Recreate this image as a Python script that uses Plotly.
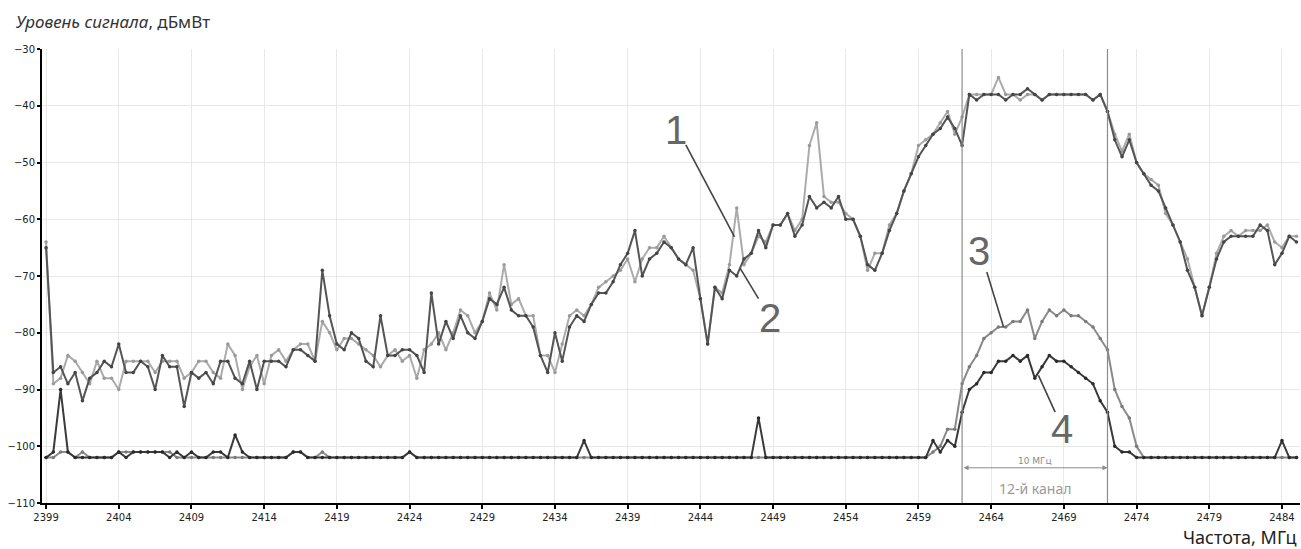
import plotly.graph_objects as go

# Frequency grid of the sweep, MHz (0.5 MHz step)
freq = [
    2399.0, 2399.5, 2400.0, 2400.5, 2401.0, 2401.5, 2402.0, 2402.5, 2403.0, 2403.5,
    2404.0, 2404.5, 2405.0, 2405.5, 2406.0, 2406.5, 2407.0, 2407.5, 2408.0, 2408.5,
    2409.0, 2409.5, 2410.0, 2410.5, 2411.0, 2411.5, 2412.0, 2412.5, 2413.0, 2413.5,
    2414.0, 2414.5, 2415.0, 2415.5, 2416.0, 2416.5, 2417.0, 2417.5, 2418.0, 2418.5,
    2419.0, 2419.5, 2420.0, 2420.5, 2421.0, 2421.5, 2422.0, 2422.5, 2423.0, 2423.5,
    2424.0, 2424.5, 2425.0, 2425.5, 2426.0, 2426.5, 2427.0, 2427.5, 2428.0, 2428.5,
    2429.0, 2429.5, 2430.0, 2430.5, 2431.0, 2431.5, 2432.0, 2432.5, 2433.0, 2433.5,
    2434.0, 2434.5, 2435.0, 2435.5, 2436.0, 2436.5, 2437.0, 2437.5, 2438.0, 2438.5,
    2439.0, 2439.5, 2440.0, 2440.5, 2441.0, 2441.5, 2442.0, 2442.5, 2443.0, 2443.5,
    2444.0, 2444.5, 2445.0, 2445.5, 2446.0, 2446.5, 2447.0, 2447.5, 2448.0, 2448.5,
    2449.0, 2449.5, 2450.0, 2450.5, 2451.0, 2451.5, 2452.0, 2452.5, 2453.0, 2453.5,
    2454.0, 2454.5, 2455.0, 2455.5, 2456.0, 2456.5, 2457.0, 2457.5, 2458.0, 2458.5,
    2459.0, 2459.5, 2460.0, 2460.5, 2461.0, 2461.5, 2462.0, 2462.5, 2463.0, 2463.5,
    2464.0, 2464.5, 2465.0, 2465.5, 2466.0, 2466.5, 2467.0, 2467.5, 2468.0, 2468.5,
    2469.0, 2469.5, 2470.0, 2470.5, 2471.0, 2471.5, 2472.0, 2472.5, 2473.0, 2473.5,
    2474.0, 2474.5, 2475.0, 2475.5, 2476.0, 2476.5, 2477.0, 2477.5, 2478.0, 2478.5,
    2479.0, 2479.5, 2480.0, 2480.5, 2481.0, 2481.5, 2482.0, 2482.5, 2483.0, 2483.5,
    2484.0, 2484.5, 2485.0,
]

# Trace 1 (light grey), dBm
level_1 = [
    -64, -89, -88, -84, -85, -87, -89, -85, -88, -88,
    -90, -85, -85, -85, -85, -87, -85, -85, -85, -88,
    -87, -85, -85, -87, -88, -82, -84, -90, -86, -84,
    -89, -84, -83, -85, -83, -82, -82, -85, -78, -80,
    -83, -81, -81, -82, -83, -84, -86, -84, -83, -85,
    -84, -88, -83, -82, -80, -83, -80, -76, -77, -80,
    -78, -73, -76, -68, -75, -74, -77, -77, -84, -84,
    -87, -82, -77, -76, -77, -75, -72, -71, -70, -69,
    -67, -71, -67, -65, -65, -63, -65, -67, -68, -69,
    -74, -82, -72, -73, -68, -58, -68, -66, -63, -64,
    -61, -61, -59, -62, -60, -47, -43, -56, -57, -57,
    -59, -60, -63, -69, -66, -66, -61, -59, -55, -52,
    -47, -46, -45, -43, -41, -45, -42, -38, -38, -38,
    -38, -35, -38, -38, -39, -38, -38, -39, -38, -38,
    -38, -38, -38, -38, -39, -38, -41, -45, -48, -45,
    -50, -52, -53, -54, -59, -61, -64, -67, -72, -77,
    -72, -66, -63, -62, -63, -62, -62, -62, -61, -64,
    -65, -63, -63,
]

# Trace 2 (dark grey), dBm
level_2 = [
    -65, -87, -86, -89, -87, -92, -88, -87, -85, -86,
    -82, -87, -87, -85, -86, -90, -84, -86, -86, -93,
    -87, -88, -87, -89, -85, -85, -88, -89, -85, -90,
    -85, -85, -85, -86, -83, -83, -84, -85, -69, -77,
    -82, -83, -80, -81, -85, -86, -77, -84, -84, -83,
    -83, -84, -87, -73, -82, -78, -81, -77, -80, -81,
    -78, -74, -75, -72, -76, -77, -77, -79, -84, -87,
    -80, -85, -79, -77, -78, -75, -73, -73, -71, -68,
    -66, -62, -70, -67, -66, -64, -65, -67, -68, -65,
    -74, -82, -72, -74, -69, -70, -67, -66, -62, -65,
    -61, -61, -59, -63, -61, -56, -58, -57, -58, -56,
    -60, -60, -63, -68, -69, -66, -62, -59, -55, -52,
    -49, -47, -45, -44, -42, -44, -47, -38, -39, -38,
    -38, -38, -39, -38, -38, -37, -38, -39, -38, -38,
    -38, -38, -38, -38, -39, -38, -41, -46, -49, -46,
    -50, -52, -54, -55, -58, -61, -64, -69, -72, -77,
    -72, -67, -64, -63, -63, -63, -63, -61, -62, -68,
    -66, -63, -64,
]

# Trace 3 (mid grey), dBm
level_3 = [
    -102, -102, -101, -101, -102, -101, -102, -102, -102, -102,
    -101, -101, -101, -101, -101, -101, -101, -101, -102, -102,
    -102, -102, -102, -102, -102, -102, -102, -102, -102, -102,
    -102, -102, -102, -102, -101, -101, -102, -102, -101, -102,
    -102, -102, -102, -102, -102, -102, -102, -102, -102, -102,
    -101, -102, -102, -102, -102, -102, -102, -102, -102, -102,
    -102, -102, -102, -102, -102, -102, -102, -102, -102, -102,
    -102, -102, -102, -102, -102, -102, -102, -102, -102, -102,
    -102, -102, -102, -102, -102, -102, -102, -102, -102, -102,
    -102, -102, -102, -102, -102, -102, -102, -102, -102, -102,
    -102, -102, -102, -102, -102, -102, -102, -102, -102, -102,
    -102, -102, -102, -102, -102, -102, -102, -102, -102, -102,
    -102, -102, -101, -100, -97, -97, -89, -86, -84, -81,
    -80, -79, -79, -78, -78, -76, -81, -78, -76, -77,
    -76, -77, -77, -78, -79, -81, -83, -90, -93, -95,
    -100, -102, -102, -102, -102, -102, -102, -102, -102, -102,
    -102, -102, -102, -102, -102, -102, -102, -102, -102, -102,
    -102, -102, -102,
]

# Trace 4 (dark), dBm
level_4 = [
    -102, -101, -90, -101, -102, -102, -102, -102, -102, -102,
    -101, -102, -101, -101, -101, -101, -101, -102, -101, -102,
    -101, -102, -102, -101, -101, -102, -98, -101, -102, -102,
    -102, -102, -102, -102, -101, -101, -102, -102, -102, -102,
    -102, -102, -102, -102, -102, -102, -102, -102, -102, -102,
    -101, -102, -102, -102, -102, -102, -102, -102, -102, -102,
    -102, -102, -102, -102, -102, -102, -102, -102, -102, -102,
    -102, -102, -102, -102, -99, -102, -102, -102, -102, -102,
    -102, -102, -102, -102, -102, -102, -102, -102, -102, -102,
    -102, -102, -102, -102, -102, -102, -102, -102, -95, -102,
    -102, -102, -102, -102, -102, -102, -102, -102, -102, -102,
    -102, -102, -102, -102, -102, -102, -102, -102, -102, -102,
    -102, -102, -99, -101, -99, -100, -94, -90, -89, -87,
    -87, -85, -85, -84, -85, -84, -88, -86, -84, -85,
    -85, -86, -87, -88, -89, -92, -94, -100, -101, -101,
    -102, -102, -102, -102, -102, -102, -102, -102, -102, -102,
    -102, -102, -102, -102, -102, -102, -102, -102, -102, -102,
    -99, -102, -102,
]

x_ticks = [2399, 2404, 2409, 2414, 2419, 2424, 2429, 2434, 2439, 2444,
           2449, 2454, 2459, 2464, 2469, 2474, 2479, 2484]
y_ticks = [-110, -100, -90, -80, -70, -60, -50, -40, -30]

channel_lo, channel_hi = 2462, 2472
channel_label = "12-й канал"
width_label = "10 МГц"

# Callout numbers: text position and leader line (from, to)
callouts = [
    ("1", (2442.3, -44.3), (2443.0, -46.9), (2446.35, -63.1)),
    ("2", (2448.8, -77.4), (2446.75, -68.7), (2448.0, -74.0)),
    ("3", (2463.15, -65.6), (2463.7, -69.3), (2464.85, -79.0)),
    ("4", (2468.9, -97.0), (2468.4, -94.0), (2467.25, -87.5)),
]

fig = go.Figure()

styles = [
    (level_1, "#ababab", "#9a9a9a"),
    (level_3, "#8a8a8a", "#7a7a7a"),
    (level_2, "#555555", "#444444"),
    (level_4, "#3a3a3a", "#2a2a2a"),
]
for values, line_color, dot_color in styles:
    fig.add_trace(go.Scatter(
        x=freq, y=values, mode="lines+markers",
        line=dict(color=line_color, width=2),
        marker=dict(size=3.5, color=dot_color),
        showlegend=False, hoverinfo="x+y",
    ))

shapes = []
for xc in (channel_lo, channel_hi):
    shapes.append(dict(type="line", xref="x", yref="y", x0=xc, x1=xc,
                       y0=-110, y1=-30, line=dict(color="#8c8c8c", width=1.2)))
for _, _, p0, p1 in callouts:
    shapes.append(dict(type="line", xref="x", yref="y", x0=p0[0], y0=p0[1],
                       x1=p1[0], y1=p1[1], line=dict(color="#444444", width=1.6)))

annotations = []
# Channel width arrow
annotations.append(dict(x=channel_hi, y=-103.8, ax=channel_lo, ay=-103.8,
                        xref="x", yref="y", axref="x", ayref="y", text="",
                        showarrow=True, arrowside="end+start", arrowhead=2,
                        arrowsize=1, arrowwidth=1, arrowcolor="#8c8c8c"))
annotations.append(dict(x=(channel_lo + channel_hi) / 2, y=-102.6, xref="x", yref="y",
                        text=width_label, showarrow=False,
                        font=dict(family="DejaVu Sans", size=9, color="#8c8c8c")))
annotations.append(dict(x=(channel_lo + channel_hi) / 2, y=-107.4, xref="x", yref="y",
                        text=channel_label, showarrow=False,
                        font=dict(family="Noto Sans", size=14, color="#9a9a9a")))
for label, pos, _, _ in callouts:
    annotations.append(dict(x=pos[0], y=pos[1], xref="x", yref="y", text=label,
                            showarrow=False,
                            font=dict(family="Liberation Sans", size=40, color="#666666")))

# Axis titles
annotations.append(dict(x=-0.0225, y=1.06, xref="paper", yref="paper",
                        xanchor="left", yanchor="middle", showarrow=False,
                        text="<i>Уровень сигнала</i>, дБмВт",
                        font=dict(family="Noto Sans", size=17, color="#333333")))
annotations.append(dict(x=0.999, y=-0.074, xref="paper", yref="paper",
                        xanchor="right", yanchor="middle", showarrow=False,
                        text="Частота, МГц",
                        font=dict(family="Noto Sans", size=18, color="#222222")))

fig.update_layout(
    width=1301, height=549,
    margin=dict(l=42, r=1, t=49, b=46),
    paper_bgcolor="white", plot_bgcolor="white",
    shapes=shapes, annotations=annotations,
    font=dict(family="DejaVu Sans", size=10, color="#222222"),
)
fig.update_xaxes(
    range=[2398.72, 2485.24], tickmode="array", tickvals=x_ticks,
    ticktext=[str(t) for t in x_ticks],
    showgrid=True, gridcolor="#e8e8e8", gridwidth=1,
    showline=True, linecolor="black", linewidth=2,
    ticks="outside", ticklen=4, tickcolor="black", tickwidth=2,
    zeroline=False, tickfont=dict(family="DejaVu Sans", size=10, color="#222222"),
)
fig.update_yaxes(
    range=[-110, -30], tickmode="array", tickvals=y_ticks,
    showgrid=True, gridcolor="#e8e8e8", gridwidth=1,
    showline=True, linecolor="black", linewidth=2,
    ticks="outside", ticklen=3, tickcolor="black", tickwidth=2,
    zeroline=False, tickfont=dict(family="DejaVu Sans", size=10, color="#222222"),
)

fig.write_html("out.html")
